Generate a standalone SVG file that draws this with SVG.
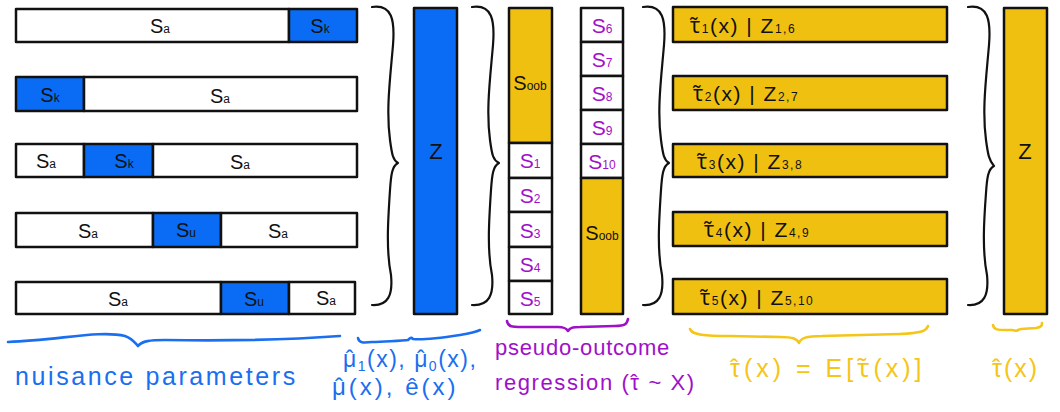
<svg xmlns="http://www.w3.org/2000/svg" width="1060" height="412" viewBox="0 0 1060 412">
<style>
  .box{stroke:#111;stroke-width:2.5;stroke-linejoin:round}
  .w{fill:#fff}
  .b{fill:#0a6cf5}
  .y{fill:#f0c010}
  .lbl{font-family:"Liberation Sans",Arial,sans-serif;font-size:20px;fill:#111;text-anchor:middle;dominant-baseline:central}
  .pl{font-family:"Liberation Sans",Arial,sans-serif;font-size:21px;fill:#a010c8;text-anchor:middle;dominant-baseline:central}
  .tl{font-family:"Liberation Sans",Arial,sans-serif;font-size:21px;fill:#111;dominant-baseline:central;letter-spacing:1.5px}
  .sub{font-size:12px}
  .m{font-family:"Noto Sans","DejaVu Sans",sans-serif}
  .brace{fill:none;stroke:#111;stroke-width:2.2;stroke-linecap:round;stroke-linejoin:round}
  .hb{fill:none;stroke-width:2.6;stroke-linecap:round;stroke-linejoin:round}
  .cap{font-family:"Liberation Sans",Arial,sans-serif;font-size:22px}
</style>

<g id="row1">
  <rect class="box w" x="16" y="9" width="273" height="33"/>
  <rect class="box b" x="289" y="9" width="68" height="33"/>
  <text class="lbl" x="160" y="26">S<tspan class="sub" dy="3">a</tspan></text>
  <text class="lbl" x="320" y="26">S<tspan class="sub" dy="3">k</tspan></text>
</g>
<g id="row2">
  <rect class="box b" x="16" y="77" width="68" height="34"/>
  <rect class="box w" x="84" y="77" width="273" height="34"/>
  <text class="lbl" x="50" y="95">S<tspan class="sub" dy="3">k</tspan></text>
  <text class="lbl" x="220" y="96">S<tspan class="sub" dy="3">a</tspan></text>
</g>
<g id="row3">
  <rect class="box w" x="16" y="144" width="68" height="33"/>
  <rect class="box b" x="84" y="144" width="69" height="33"/>
  <rect class="box w" x="153" y="144" width="204" height="33"/>
  <text class="lbl" x="46" y="161">S<tspan class="sub" dy="3">a</tspan></text>
  <text class="lbl" x="124" y="161">S<tspan class="sub" dy="3">k</tspan></text>
  <text class="lbl" x="240" y="162">S<tspan class="sub" dy="3">a</tspan></text>
</g>
<g id="row4">
  <rect class="box w" x="16" y="213" width="137" height="34"/>
  <rect class="box b" x="153" y="213" width="68" height="34"/>
  <rect class="box w" x="221" y="213" width="136" height="34"/>
  <text class="lbl" x="88" y="231">S<tspan class="sub" dy="3">a</tspan></text>
  <text class="lbl" x="186" y="230">S<tspan class="sub" dy="3">u</tspan></text>
  <text class="lbl" x="278" y="231">S<tspan class="sub" dy="3">a</tspan></text>
</g>
<g id="row5">
  <rect class="box w" x="16" y="282" width="205" height="32"/>
  <rect class="box b" x="221" y="282" width="68" height="32"/>
  <rect class="box w" x="289" y="282" width="66" height="32"/>
  <text class="lbl" x="118" y="299">S<tspan class="sub" dy="3">a</tspan></text>
  <text class="lbl" x="254" y="299">S<tspan class="sub" dy="3">u</tspan></text>
  <text class="lbl" x="326" y="298">S<tspan class="sub" dy="3">a</tspan></text>
</g>

<g id="zBlue">
  <rect class="box b" x="414" y="8" width="43" height="306"/>
  <text class="lbl" x="436" y="151" style="font-size:22px">Z</text>
</g>

<g id="colLeft">
  <rect class="box y" x="509" y="8" width="43" height="135"/>
  <text class="lbl" x="530" y="83">S<tspan class="sub" dy="3">oob</tspan></text>
  <rect class="box w" x="509" y="143" width="43" height="35"/>
  <rect class="box w" x="509" y="178" width="43" height="34"/>
  <rect class="box w" x="509" y="212" width="43" height="35"/>
  <rect class="box w" x="509" y="247" width="43" height="34"/>
  <rect class="box w" x="509" y="281" width="43" height="33"/>
  <text class="pl" x="530" y="160">S<tspan class="sub" dy="4">1</tspan></text>
  <text class="pl" x="530" y="195">S<tspan class="sub" dy="4">2</tspan></text>
  <text class="pl" x="530" y="230">S<tspan class="sub" dy="4">3</tspan></text>
  <text class="pl" x="530" y="264">S<tspan class="sub" dy="4">4</tspan></text>
  <text class="pl" x="530" y="298">S<tspan class="sub" dy="4">5</tspan></text>
</g>

<g id="colRight">
  <rect class="box w" x="581" y="8" width="42" height="34"/>
  <rect class="box w" x="581" y="42" width="42" height="34"/>
  <rect class="box w" x="581" y="76" width="42" height="34"/>
  <rect class="box w" x="581" y="110" width="42" height="34"/>
  <rect class="box w" x="581" y="144" width="42" height="34"/>
  <rect class="box y" x="581" y="178" width="42" height="136"/>
  <text class="pl" x="602" y="25">S<tspan class="sub" dy="4">6</tspan></text>
  <text class="pl" x="602" y="59">S<tspan class="sub" dy="4">7</tspan></text>
  <text class="pl" x="602" y="93">S<tspan class="sub" dy="4">8</tspan></text>
  <text class="pl" x="602" y="127">S<tspan class="sub" dy="4">9</tspan></text>
  <text class="pl" x="602" y="161">S<tspan class="sub" dy="4">10</tspan></text>
  <text class="lbl" x="602" y="233">S<tspan class="sub" dy="3">oob</tspan></text>
</g>

<g id="tau1">
  <rect class="box y" x="673" y="7" width="274" height="35"/>
  <text class="tl" x="690" y="25"><tspan class="m">τ̃</tspan><tspan class="sub" dy="4">1</tspan><tspan dy="-4">(x)  |  Z</tspan><tspan class="sub" dy="4">1,6</tspan></text>
</g>
<g id="tau2">
  <rect class="box y" x="673" y="76" width="274" height="34"/>
  <text class="tl" x="693" y="93"><tspan class="m">τ̃</tspan><tspan class="sub" dy="4">2</tspan><tspan dy="-4">(x)  |  Z</tspan><tspan class="sub" dy="4">2,7</tspan></text>
</g>
<g id="tau3">
  <rect class="box y" x="673" y="144" width="274" height="33"/>
  <text class="tl" x="697" y="161"><tspan class="m">τ̃</tspan><tspan class="sub" dy="4">3</tspan><tspan dy="-4">(x)  |  Z</tspan><tspan class="sub" dy="4">3,8</tspan></text>
</g>
<g id="tau4">
  <rect class="box y" x="673" y="212" width="274" height="34"/>
  <text class="tl" x="704" y="229"><tspan class="m">τ̃</tspan><tspan class="sub" dy="4">4</tspan><tspan dy="-4">(x)  |  Z</tspan><tspan class="sub" dy="4">4,9</tspan></text>
</g>
<g id="tau5">
  <rect class="box y" x="673" y="279" width="274" height="35"/>
  <text class="tl" x="700" y="297"><tspan class="m">τ̃</tspan><tspan class="sub" dy="4">5</tspan><tspan dy="-4">(x)  |  Z</tspan><tspan class="sub" dy="4">5,10</tspan></text>
</g>

<g id="zYellow">
  <rect class="box y" x="1004" y="8" width="43" height="306"/>
  <text class="lbl" x="1025" y="151" style="font-size:22px">Z</text>
</g>

<g id="connectors">
  <path class="brace" d="M372 7 C392 4 395 20 393 45 C390 80 386 110 390 140 C392 155 393 160 398 163 C392 166 391 175 390 190 C388 220 386 250 391 275 C393 295 388 306 372 305"/>
  <path class="brace" d="M472 7 C492 4 495 20 493 45 C490 80 486 110 490 140 C492 155 493 160 499 163 C493 166 492 175 491 190 C489 220 487 250 492 275 C494 295 489 306 472 305"/>
  <path class="brace" d="M643 7 C663 4 666 20 664 45 C661 80 657 110 661 140 C663 155 664 160 669 163 C663 166 662 175 661 190 C659 220 657 250 662 275 C664 295 659 306 643 305"/>
  <path class="brace" d="M968 7 C988 4 991 20 989 45 C986 80 982 110 986 140 C988 155 989 160 994 166 C988 169 987 178 986 193 C984 220 982 250 987 275 C989 295 984 306 968 305"/>

  <path class="hb" stroke="#1a6ef0" d="M8 342 C60 340 100 330 125 336 C133 339 135 343 138 346 C142 341 150 340 165 340 C230 341 300 339 340 336"/>
  <path class="hb" stroke="#1a6ef0" d="M358 338 C359 343 363 343 372 342 C390 341 403 341 408 340 C410 338 411 337 413 339 C420 340 440 338 460 335 C472 333 478 331 480 330"/>
  <path class="hb" stroke="#a010c8" d="M507 321 C508 327 512 327 522 327 L558 327 C564 327 566 328 568 331 C570 328 572 327 580 327 L615 326 C625 326 627 324 628 319"/>
  <path class="hb" stroke="#f5c518" d="M690 329 C692 335 705 336 730 336 L780 337 C794 337 797 339 799 343 C801 338 806 336 822 336 L900 334 C922 333 926 331 928 326"/>
  <path class="hb" stroke="#f5c518" d="M993 325 C994 330 998 330 1006 330 L1012 330 C1015 330 1016 332 1018 330 C1022 328 1030 329 1036 328 C1041 327 1042 326 1042 323"/>
</g>

<g id="captions">
  <text class="cap" fill="#1a6ef0" x="15" y="385" style="font-size:25px;letter-spacing:2.6px">nuisance parameters</text>
  <text class="cap" fill="#1a6ef0" x="343" y="367" style="font-size:23px;letter-spacing:1.5px">μ<tspan dx="-12">ˆ</tspan><tspan class="sub" dx="2.8" dy="4" style="font-size:14px">1</tspan><tspan dy="-4">(x), μ</tspan><tspan dx="-12">ˆ</tspan><tspan class="sub" dx="2.8" dy="4" style="font-size:14px">0</tspan><tspan dy="-4">(x),</tspan></text>
  <text class="cap" fill="#1a6ef0" x="332" y="395" style="font-size:24px;letter-spacing:3px">μ<tspan dx="-13.9">ˆ</tspan><tspan dx="2.9">(x), ê(x)</tspan></text>
  <text class="cap" fill="#a010c8" x="495" y="355" style="letter-spacing:0.8px">pseudo-outcome</text>
  <text class="cap" fill="#a010c8" x="495" y="390" style="letter-spacing:1.6px">regression (τ<tspan dx="-10.3">ˆ</tspan><tspan dx="1.4"> ~ X)</tspan></text>
  <text class="cap" fill="#f5c518" x="730" y="377" style="font-size:25px;letter-spacing:4px">τ<tspan dx="-13.9">ˆ</tspan><tspan dx="1.6">(x) = E[</tspan><tspan class="m">τ̃</tspan>(x)]</text>
  <text class="cap" fill="#f5c518" x="992" y="377" style="font-size:25px;letter-spacing:2px">τ<tspan dx="-11.9">ˆ</tspan><tspan dx="1.6">(x)</tspan></text>
</g>
</svg>
